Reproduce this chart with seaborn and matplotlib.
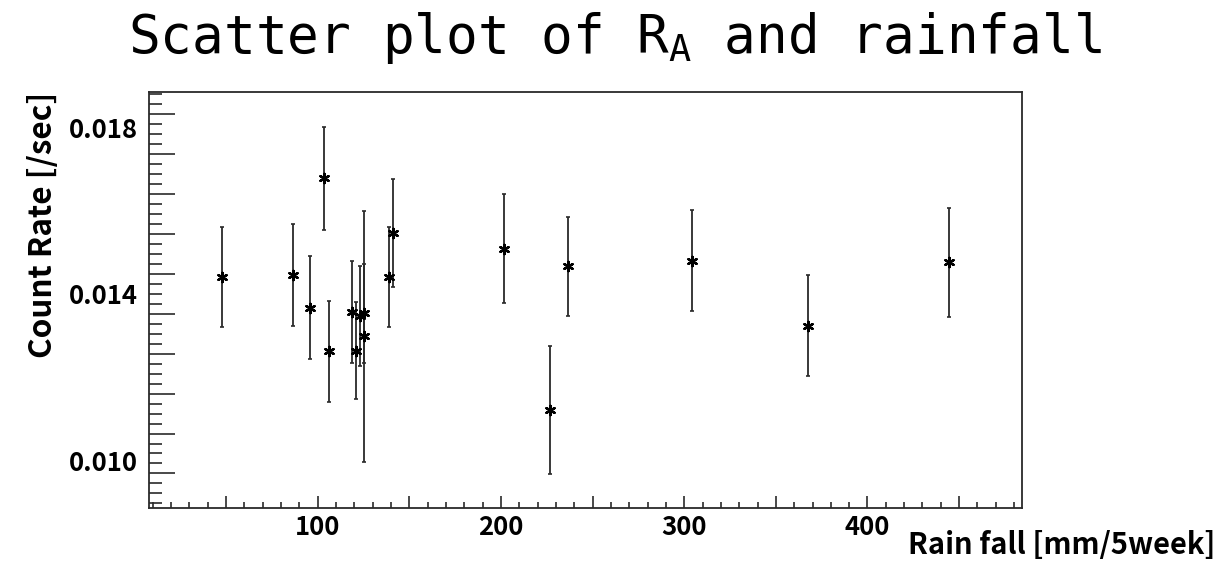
import numpy as np
import pandas as pd
import matplotlib
matplotlib.use("Agg")
import matplotlib.pyplot as plt
from matplotlib.ticker import MultipleLocator, FixedLocator, FuncFormatter, NullFormatter
import seaborn as sns

# ---- data ----
rainfall = [47.7, 86.7, 95.9, 103.7, 106.4, 118.9, 120.9, 123.3, 125.5, 125.5,
            138.8, 141.0, 201.7, 226.8, 236.8, 304.1, 367.7, 444.5]
count_rate = [0.01440, 0.01444, 0.01366, 0.01677, 0.01261, 0.01355, 0.01263, 0.01346,
              0.01352, 0.01297, 0.01440, 0.01545, 0.01508, 0.01120, 0.01466, 0.01479,
              0.01323, 0.01475]
rate_err = [0.00120, 0.00123, 0.00124, 0.00124, 0.00121, 0.00122, 0.00116, 0.00119,
            0.00119, 0.00302, 0.00120, 0.00130, 0.00131, 0.00154, 0.00119, 0.00121,
            0.00122, 0.00131]
y_tick_labels = [0.010, 0.014, 0.018]
x_tick_labels = [100, 200, 300, 400]

df = pd.DataFrame({"rain": rainfall, "rate": count_rate, "err": rate_err})

sns.set_theme(style="white")
plt.rcParams["font.family"] = ["Noto Sans CJK JP", "DejaVu Sans"]
plt.rcParams["mathtext.fontset"] = "custom"
plt.rcParams["mathtext.rm"] = "DejaVu Sans Mono"
plt.rcParams["mathtext.it"] = "DejaVu Sans Mono"

W, H = 1231, 565
fig = plt.figure(figsize=(W / 100, H / 100), dpi=100)
fig.patch.set_facecolor("white")
ax = fig.add_axes([149 / W, 1 - 508 / H, (1022 - 149) / W, (508 - 92) / H])
ax.set_facecolor("white")

line_c = "#2a2a2a"
ax.errorbar(df["rain"], df["rate"], yerr=df["err"], fmt="none", ecolor=line_c,
            elinewidth=1.3, capsize=1.6, capthick=1.2, zorder=2)
sns.scatterplot(data=df, x="rain", y="rate", ax=ax, marker=(6, 2, 0), s=45,
                color="black", edgecolor="black", linewidth=1.7, zorder=3, legend=False)

ax.set_xlim(8.0, 484.3)
ax.set_ylim(0.008847, 0.018841)
ax.set_xlabel("")
ax.set_ylabel("")

for sp in ax.spines.values():
    sp.set_visible(True)
    sp.set_color(line_c)
    sp.set_linewidth(1.3)

# x ticks
ax.xaxis.set_major_locator(MultipleLocator(50))
ax.xaxis.set_minor_locator(MultipleLocator(10))
ax.xaxis.set_major_formatter(FuncFormatter(
    lambda v, p: f"{int(round(v))}" if int(round(v)) in x_tick_labels else ""))
ax.tick_params(axis="x", which="both", direction="in", bottom=True, top=False,
               color=line_c, width=1.2)
ax.tick_params(axis="x", which="major", length=8.6, pad=4.5, labelsize=18.5)
ax.tick_params(axis="x", which="minor", length=4.3)

# y labels (no marks) on main axis
ax.yaxis.set_major_locator(FixedLocator(y_tick_labels))
ax.yaxis.set_major_formatter(FuncFormatter(lambda v, p: f"{v:.3f}"))
ax.yaxis.set_minor_locator(FixedLocator([]))
ax.tick_params(axis="y", which="major", direction="in", left=True, right=False,
               length=0, pad=8, labelsize=18.5)

for lab in ax.get_xticklabels() + ax.get_yticklabels():
    lab.set_fontweight("bold")
    lab.set_color("black")

# y tick marks (as in the reference, independent of label spacing)
sec = ax.secondary_yaxis("left")
sec.spines["left"].set_visible(False)
ymin, ymax = ax.get_ylim()
y0, step = 0.018305, 0.0009586
k0 = int(np.floor((ymin - y0) / step))
k1 = int(np.ceil((ymax - y0) / step))
majors = [y0 + k * step for k in range(k0, k1 + 1) if ymin <= y0 + k * step <= ymax]
minors = [y0 + k * step / 4 for k in range(4 * k0, 4 * k1 + 1)
          if ymin <= y0 + k * step / 4 <= ymax]
sec.yaxis.set_major_locator(FixedLocator(majors))
sec.yaxis.set_minor_locator(FixedLocator(minors))
sec.yaxis.set_major_formatter(NullFormatter())
sec.tick_params(axis="y", which="both", direction="in", color=line_c, width=1.2)
sec.tick_params(axis="y", which="major", length=18.5)
sec.tick_params(axis="y", which="minor", length=9.2)

# titles and axis labels
fig.text(615 / W, 1 - 53 / H, r"Scatter plot of R$_\mathrm{A}$ and rainfall",
         family="DejaVu Sans Mono", fontsize=38, ha="center", va="baseline", color="black")
fig.text(43 / W, 1 - 92 / H, "Count Rate [/sec]", rotation=90, ha="center", va="top",
         fontsize=22.7, fontweight="bold", color="black")
fig.text(1215 / W, 1 - 545 / H, "Rain fall [mm/5week]", ha="right", va="center",
         fontsize=21, fontweight="bold", color="black")

fig.savefig("out.png", dpi=100, facecolor="white")
